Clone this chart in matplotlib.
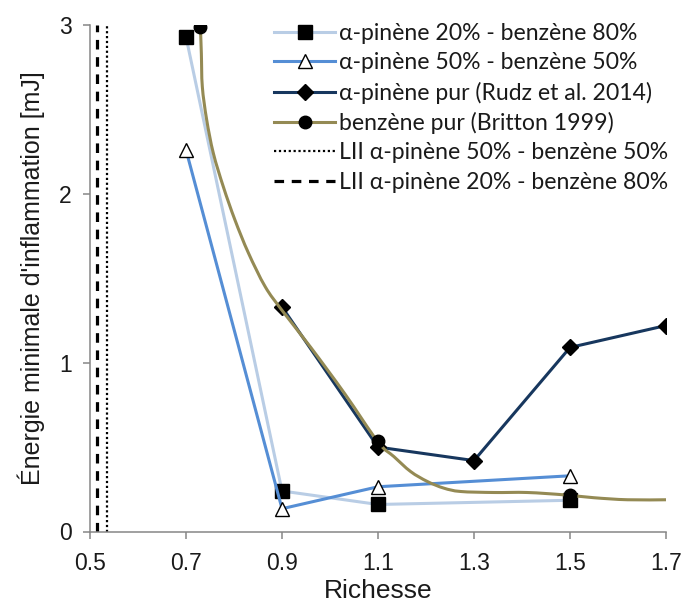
import numpy as np
import matplotlib
matplotlib.use("Agg")
import matplotlib.pyplot as plt
from matplotlib.path import Path
from matplotlib.patches import PathPatch
from matplotlib.lines import Line2D

# ── Data ──────────────────────────────────────────────────────────────────────

x_20_80 = [0.7, 0.9, 1.1, 1.5]
y_20_80 = [2.93, 0.24, 0.16, 0.185]

x_50_50 = [0.7, 0.9, 1.1, 1.5]
y_50_50 = [2.26, 0.135, 0.265, 0.33]

x_pur = [0.9, 1.1, 1.3, 1.5, 1.7]
y_pur = [1.33, 0.50, 0.42, 1.09, 1.22]

# benzène: markers + points along the drawn smooth curve
x_bz_mark = [0.73, 1.1, 1.5]
y_bz_mark = [2.99, 0.535, 0.215]
x_bz_curve = [0.730, 0.732, 0.734, 0.743, 0.757, 0.778, 0.802, 0.830, 0.865,
              0.900, 0.960, 1.031, 1.100, 1.133, 1.168, 1.203, 1.237, 1.272,
              1.341, 1.411, 1.488, 1.550, 1.620, 1.700]
y_bz_curve = [2.99, 2.83, 2.635, 2.44, 2.24, 2.04, 1.845, 1.65, 1.45,
              1.31, 1.09, 0.815, 0.53, 0.444, 0.355, 0.296, 0.257, 0.237,
              0.231, 0.231, 0.217, 0.200, 0.188, 0.188]

lii_50_50 = 0.535
lii_20_80 = 0.515

labels = [
    "α-pinène 20% - benzène 80%",
    "α-pinène 50% - benzène 50%",
    "α-pinène pur (Rudz et al. 2014)",
    "benzène pur (Britton 1999)",
    "LII α-pinène 50% - benzène 50%",
    "LII α-pinène 20% - benzène 80%",
]

# ── Style ─────────────────────────────────────────────────────────────────────

C_LIGHT = "#b9cde5"
C_BLUE  = "#558ed5"
C_NAVY  = "#17375e"
C_OLIVE = "#948a54"
C_AXIS  = "#868686"
C_TEXT  = "#1a1a1a"
LW = 2.2


def smooth_path(xs, ys):
    """Catmull-Rom through the points, drawn as cubic Bezier segments."""
    p = np.column_stack([xs, ys])
    ext = np.vstack([p[0], p, p[-1]])
    verts = [p[0]]
    codes = [Path.MOVETO]
    for i in range(len(p) - 1):
        p0, p1, p2, p3 = ext[i], ext[i + 1], ext[i + 2], ext[i + 3]
        verts += [p1 + (p2 - p0) / 6, p2 - (p3 - p1) / 6, p2]
        codes += [Path.CURVE4] * 3
    return Path(verts, codes)


fig = plt.figure(figsize=(6.83, 6.07), dpi=100)
ax = fig.add_axes([90 / 683, 1 - 531.5 / 607, 576 / 683, 506.5 / 607])

ax.plot(x_20_80, y_20_80, color=C_LIGHT, lw=LW, marker="s", ms=10.5,
        mfc="black", mec="black", zorder=3)
ax.plot(x_50_50, y_50_50, color=C_BLUE, lw=LW, marker="^", ms=10,
        mfc="white", mec="black", mew=1.0, zorder=4)
ax.plot(x_pur, y_pur, color=C_NAVY, lw=LW, marker="D", ms=8.5,
        mfc="black", mec="black", zorder=5)
ax.add_patch(PathPatch(smooth_path(x_bz_curve, y_bz_curve), facecolor="none",
                       edgecolor=C_OLIVE, lw=LW, zorder=6))
ax.plot(x_bz_mark, y_bz_mark, ls="none", marker="o", ms=9,
        mfc="black", mec="black", zorder=6)

ax.axvline(lii_50_50, color="black", lw=1.6, ls=(0, (1, 1.2)), zorder=2)
ax.axvline(lii_20_80, color="black", lw=2.3, ls=(0, (3, 2.4)), zorder=2)

ax.set_xlim(0.5, 1.7)
ax.set_ylim(0, 3)
ax.set_xticks([0.5, 0.7, 0.9, 1.1, 1.3, 1.5, 1.7])
ax.set_xticklabels(["0.5", "0.7", "0.9", "1.1", "1.3", "1.5", "1.7"])
ax.set_yticks([0, 1, 2, 3])

for side in ("top", "right"):
    ax.spines[side].set_visible(False)
for side in ("left", "bottom"):
    ax.spines[side].set_color(C_AXIS)
    ax.spines[side].set_linewidth(1.1)
ax.tick_params(direction="out", length=5, width=1.1, color=C_AXIS,
               labelsize=16.5, labelcolor=C_TEXT)
ax.tick_params(axis="x", pad=10)
ax.tick_params(axis="y", pad=8)
for lab in ax.get_xticklabels() + ax.get_yticklabels():
    lab.set_family("Liberation Sans")

ax.set_xlabel("Richesse", fontsize=19, family="Liberation Sans",
              color=C_TEXT, labelpad=3)
ax.set_ylabel("Énergie minimale d'inflammation [mJ]", fontsize=18,
              family="Liberation Sans", color=C_TEXT, labelpad=10)

handles = [
    Line2D([], [], color=C_LIGHT, lw=LW, marker="s", ms=10.5, mfc="black", mec="black"),
    Line2D([], [], color=C_BLUE, lw=LW, marker="^", ms=10, mfc="white", mec="black"),
    Line2D([], [], color=C_NAVY, lw=LW, marker="D", ms=8.5, mfc="black", mec="black"),
    Line2D([], [], color=C_OLIVE, lw=LW, marker="o", ms=9, mfc="black", mec="black"),
    Line2D([], [], color="black", lw=1.6, ls=(0, (1, 1.2))),
    Line2D([], [], color="black", lw=2.3, ls=(0, (3, 2.4))),
]
fig.legend(handles, labels, loc="upper left",
           bbox_to_anchor=(274 / 683, 1 - 23 / 607),
           frameon=False, borderpad=0, borderaxespad=0,
           handlelength=2.65, handletextpad=0.17, labelspacing=0.36,
           prop={"family": "Lato", "size": 16.6}, labelcolor=C_TEXT)

fig.savefig("out.png", dpi=100)
